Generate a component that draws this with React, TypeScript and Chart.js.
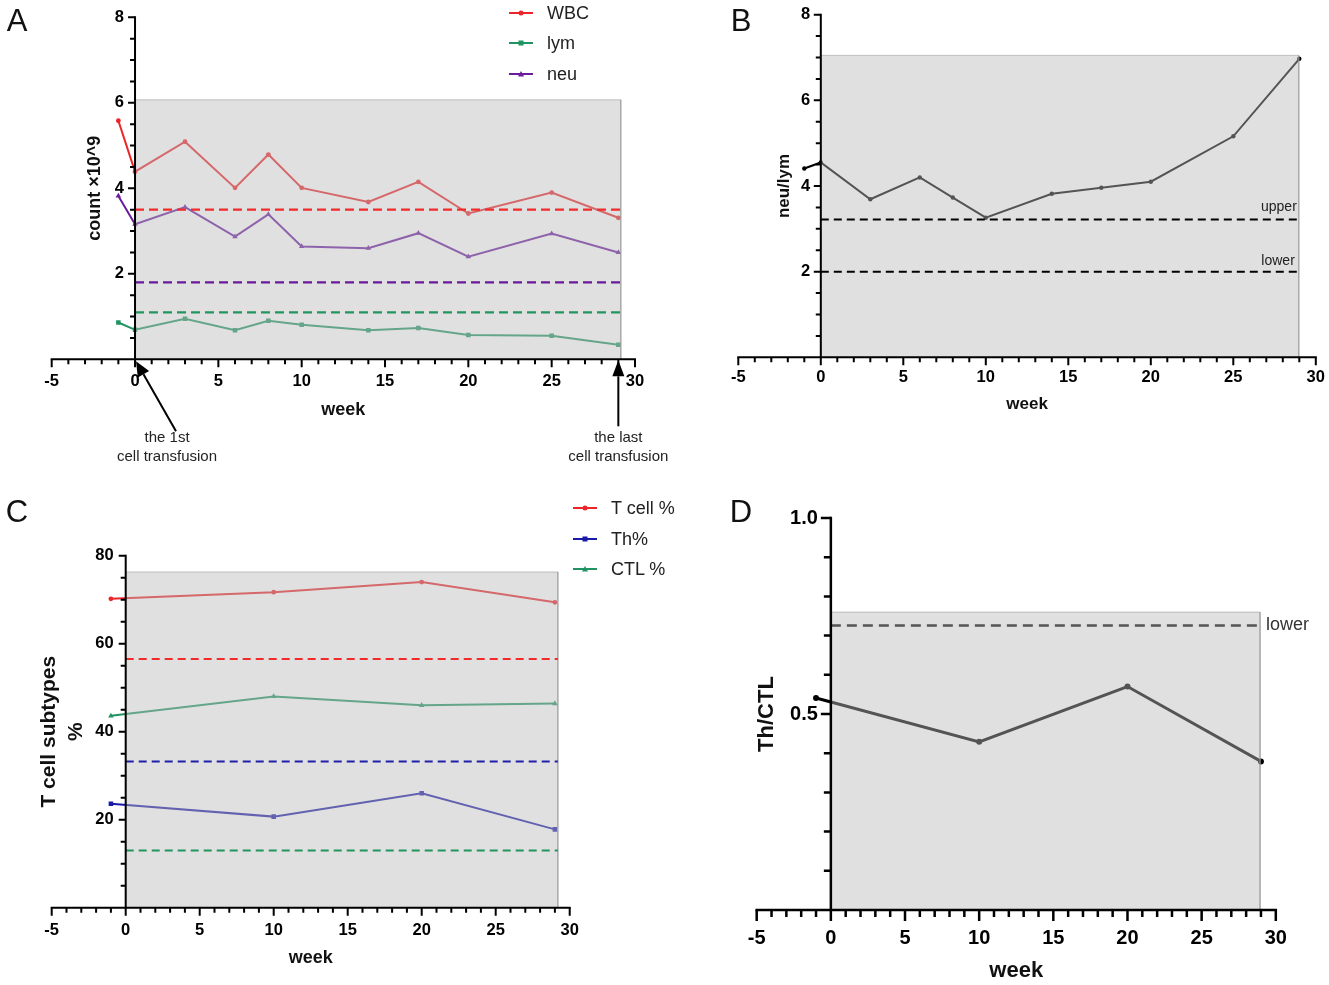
import React, { useEffect, useRef } from 'react';
import { Chart, registerables } from 'chart.js';

Chart.register(...registerables);

const FONT = '"Liberation Sans", Arial, Helvetica, sans-serif';
Chart.defaults.font.family = FONT;

// ---------------- data: panel A (counts) ----------------
const weeksA = [-1, 0, 3, 6, 8, 10, 14, 17, 20, 25, 29];
const wbcCounts = [5.58, 4.39, 5.09, 4.01, 4.79, 4.01, 3.68, 4.15, 3.41, 3.9, 3.31];
const lymCounts = [0.86, 0.69, 0.95, 0.68, 0.9, 0.81, 0.68, 0.73, 0.57, 0.55, 0.34];
const neuCounts = [3.82, 3.16, 3.56, 2.87, 3.39, 2.64, 2.6, 2.95, 2.4, 2.94, 2.5];
const wbcLowerLimit = 3.5;
const lymLowerLimit = 1.1;
const neuLowerLimit = 1.8;
const seriesNamesA = ['WBC', 'lym', 'neu'];
const transfusionWeeks = [0, 29];
const transfusionNotes = [
  ['the 1st', 'cell transfusion'],
  ['the last', 'cell transfusion'],
];

// ---------------- data: panel B (neu/lym) ----------------
const weeksB = [-1, 0, 3, 6, 8, 10, 14, 17, 20, 25, 29];
const neuLymRatio = [4.41, 4.55, 3.69, 4.2, 3.73, 3.26, 3.82, 3.96, 4.1, 5.16, 6.97];
const ratioUpper = 3.22;
const ratioLower = 2.0;
const ratioLimitNames = ['upper', 'lower'];

// ---------------- data: panel C (T cell subtypes) ----------------
const weeksC = [-1, 10, 20, 29];
const tCellPct = [70.2, 71.7, 74.0, 69.4];
const thPct = [23.6, 20.7, 26.0, 17.8];
const ctlPct = [43.6, 48.0, 46.0, 46.4];
const tCellLimit = 56.5;
const thLimit = 33.2;
const ctlLimit = 13.0;
const seriesNamesC = ['T cell %', 'Th%', 'CTL %'];

// ---------------- data: panel D (Th/CTL) ----------------
const weeksD = [-1, 10, 20, 29];
const thCtlRatio = [0.541, 0.429, 0.57, 0.379];
const thCtlLower = 0.726;
const thCtlLimitName = 'lower';

// shaded treatment window: end week and top value per panel
const windowEndA = 29.15;
const windowTopA = 6.07;
const windowEndB = 28.97;
const windowTopB = 7.05;
const windowEndC = 29.2;
const windowTopC = 76.3;
const windowEndD = 28.94;
const windowTopD = 0.76;

// ---------------- axes ----------------
const weekMin = -5;
const weekMax = 30;
const weekTicks = [-5, 0, 5, 10, 15, 20, 25, 30];
const weekTickLabels = ['-5', '0', '5', '10', '15', '20', '25', '30'];
const countMax = 8;
const countTicks = [2, 4, 6, 8];
const countTickLabels = ['2', '4', '6', '8'];
const ratioMax = 8;
const ratioTicks = [2, 4, 6, 8];
const ratioTickLabels = ['2', '4', '6', '8'];
const pctMax = 80;
const pctTicks = [20, 40, 60, 80];
const pctTickLabels = ['20', '40', '60', '80'];
const thCtlMax = 1;
const thCtlTicks = [0.5, 1.0];
const thCtlTickLabels = ['0.5', '1.0'];

// ---------------- styles ----------------
const RED = '#ec2529';
const GREEN = '#1f9462';
const PURPLE = '#6a1d9e';
const BLUE = '#1a1aa8';
const SHADE_FILL = 'rgba(186,186,186,0.45)';
const SHADE_EDGE = 'rgba(150,150,150,0.55)';

const pts = (xs: number[], ys: number[]) => xs.map((x, i) => ({ x, y: ys[i] }));

function series(label: string, xs: number[], ys: number[], color: string, pointStyle: string, extra: any = {}) {
  return {
    label,
    data: pts(xs, ys),
    borderColor: color,
    backgroundColor: color,
    pointBackgroundColor: color,
    pointBorderColor: color,
    borderWidth: 2,
    pointRadius: pointStyle === 'circle' ? 2.4 : 3.2,
    pointBorderWidth: 0,
    pointStyle,
    tension: 0,
    fill: false,
    order: 3,
    ...extra,
  };
}

function refLine(label: string, value: number, end: number, color: string, width: number, dash: number[], order = 1) {
  return {
    label,
    data: [
      { x: 0, y: value },
      { x: end, y: value },
    ],
    borderColor: color,
    backgroundColor: color,
    borderWidth: width,
    borderDash: dash,
    pointRadius: 0,
    fill: false,
    order,
  };
}

function shade(end: number, top: number) {
  return {
    label: 'window',
    data: [
      { x: 0, y: 0 },
      { x: 0, y: top },
      { x: end, y: top },
      { x: end, y: 0 },
    ],
    borderColor: SHADE_EDGE,
    borderWidth: 1,
    backgroundColor: SHADE_FILL,
    fill: 'origin',
    pointRadius: 0,
    order: 2,
  };
}

// ---------------- plugins ----------------
const prismAxes = {
  id: 'prismAxes',
  afterDraw(chart: any, _args: any, o: any) {
    if (!o || !o.xMajor) return;
    const ctx = chart.ctx;
    const xs = chart.scales.x;
    const ys = chart.scales.y;
    const px = (v: number) => xs.getPixelForValue(v);
    const py = (v: number) => ys.getPixelForValue(v);
    const ax = px(0);
    const ay = py(0);
    ctx.save();
    ctx.strokeStyle = '#000';
    ctx.fillStyle = '#000';
    ctx.lineWidth = o.axisWidth;
    ctx.lineCap = 'square';
    ctx.beginPath();
    ctx.moveTo(px(xs.min), ay);
    ctx.lineTo(px(xs.max), ay);
    ctx.moveTo(ax, ay);
    ctx.lineTo(ax, py(ys.max));
    ctx.stroke();
    ctx.lineCap = 'butt';
    ctx.beginPath();
    const nx = Math.round((xs.max - xs.min) / o.xMinorStep);
    for (let i = 0; i <= nx; i++) {
      const v = xs.min + i * o.xMinorStep;
      const major = o.xMajor.some((m: number) => Math.abs(m - v) < 1e-6);
      const p = px(v);
      ctx.moveTo(p, ay);
      ctx.lineTo(p, ay + (major ? o.xMajorLen : o.xMinorLen));
    }
    const ny = Math.round((ys.max - ys.min) / o.yMinorStep);
    for (let i = 1; i <= ny; i++) {
      const v = ys.min + i * o.yMinorStep;
      const major = o.yMajor.some((m: number) => Math.abs(m - v) < 1e-6);
      const p = py(v);
      ctx.moveTo(ax, p);
      ctx.lineTo(ax - (major ? o.yMajorLen : o.yMinorLen), p);
    }
    ctx.stroke();

    ctx.font = o.tickFont;
    ctx.textAlign = 'center';
    ctx.textBaseline = 'middle';
    o.xMajor.forEach((v: number, i: number) => ctx.fillText(o.xLabels[i], px(v), ay + o.xLabelGap));
    ctx.textAlign = 'right';
    o.yMajor.forEach((v: number, i: number) => ctx.fillText(o.yLabels[i], ax - o.yLabelGap, py(v)));

    ctx.textAlign = 'center';
    ctx.font = o.xTitleFont;
    ctx.fillStyle = '#111';
    ctx.fillText(o.xTitle, (px(xs.min) + px(xs.max)) / 2, ay + o.xTitleGap);
    ctx.font = o.yTitleFont;
    ctx.save();
    ctx.translate(ax - o.yTitleGap, (py(ys.min) + py(ys.max)) / 2);
    ctx.rotate(-Math.PI / 2);
    o.yTitle.forEach((t: string, i: number) => ctx.fillText(t, 0, i * o.yTitleLineGap));
    ctx.restore();
    ctx.restore();
  },
};

const arrowNotes = {
  id: 'arrowNotes',
  afterDraw(chart: any, _args: any, o: any) {
    if (!o || !o.items) return;
    const ctx = chart.ctx;
    const xs = chart.scales.x;
    const ys = chart.scales.y;
    ctx.save();
    for (const it of o.items) {
      const baseX = xs.getPixelForValue(it.week);
      const baseY = ys.getPixelForValue(0);
      const tx = baseX + it.tipDx;
      const ty = baseY + it.tipDy;
      const sx = tx + it.dx;
      const sy = ty + it.dy;
      const ang = Math.atan2(ty - sy, tx - sx);
      const bx = tx - it.headLen * Math.cos(ang);
      const by = ty - it.headLen * Math.sin(ang);
      ctx.strokeStyle = '#000';
      ctx.fillStyle = '#000';
      ctx.lineWidth = 2;
      ctx.beginPath();
      ctx.moveTo(sx, sy);
      ctx.lineTo(bx, by);
      ctx.stroke();
      ctx.beginPath();
      ctx.moveTo(tx, ty);
      ctx.lineTo(bx + it.headHalf * Math.sin(ang), by - it.headHalf * Math.cos(ang));
      ctx.lineTo(bx - it.headHalf * Math.sin(ang), by + it.headHalf * Math.cos(ang));
      ctx.closePath();
      ctx.fill();
      ctx.font = o.font;
      ctx.fillStyle = '#222';
      ctx.textAlign = 'center';
      ctx.textBaseline = 'middle';
      it.lines.forEach((t: string, i: number) => ctx.fillText(t, baseX + it.textDx, baseY + it.textDy + i * o.lineGap));
    }
    ctx.restore();
  },
};

const refText = {
  id: 'refText',
  afterDraw(chart: any, _args: any, o: any) {
    if (!o || !o.items) return;
    const ctx = chart.ctx;
    const xs = chart.scales.x;
    const ys = chart.scales.y;
    ctx.save();
    for (const it of o.items) {
      ctx.font = it.font;
      ctx.fillStyle = it.color;
      ctx.textAlign = it.align;
      ctx.textBaseline = 'middle';
      ctx.fillText(it.text, xs.getPixelForValue(it.x) + it.dx, ys.getPixelForValue(it.y) + it.dy);
    }
    ctx.restore();
  },
};

function makeConfig(datasets: any[], yMax: number, padding: any, axes: any, extra: any = {}) {
  return {
    type: 'line',
    data: { datasets },
    options: {
      responsive: false,
      maintainAspectRatio: false,
      animation: false,
      events: [],
      layout: { padding },
      scales: {
        x: { type: 'linear', min: weekMin, max: weekMax, display: false },
        y: { type: 'linear', min: 0, max: yMax, display: false },
      },
      plugins: {
        legend: { display: false },
        tooltip: { enabled: false },
        filler: { drawTime: 'beforeDatasetDraw' },
        prismAxes: axes,
        arrowNotes: extra.arrowNotes || {},
        refText: extra.refText || {},
      },
    },
    plugins: [prismAxes, arrowNotes, refText],
  };
}

const baseAxes = {
  xMajor: weekTicks,
  xLabels: weekTickLabels,
  xMinorStep: 1,
  tickFont: `bold 16.5px ${FONT}`,
  axisWidth: 2,
  xMajorLen: 8,
  xMinorLen: 5,
  yMajorLen: 7,
  yMinorLen: 5,
  xTitle: 'week',
  yTitleLineGap: 0,
};

function configA() {
  const datasets = [
    series(seriesNamesA[0], weeksA, wbcCounts, RED, 'circle'),
    series(seriesNamesA[1], weeksA, lymCounts, GREEN, 'rect'),
    series(seriesNamesA[2], weeksA, neuCounts, PURPLE, 'triangle'),
    shade(windowEndA, windowTopA),
    refLine('WBC limit', wbcLowerLimit, windowEndA, '#f22a2a', 2.2, [9, 5]),
    refLine('neu limit', neuLowerLimit, windowEndA, '#681a9c', 2.2, [9, 5]),
    refLine('lym limit', lymLowerLimit, windowEndA, '#22955f', 2.2, [9, 5]),
  ];
  const axes = {
    ...baseAxes,
    yMajor: countTicks,
    yLabels: countTickLabels,
    yMinorStep: 0.5,
    xLabelGap: 22.5,
    yLabelGap: 11,
    xTitleGap: 50.5,
    yTitleGap: 40,
    xTitleFont: `bold 18px ${FONT}`,
    yTitleFont: `bold 18px ${FONT}`,
    yTitle: ['count ×10^9'],
  };
  const notes = {
    font: `15px ${FONT}`,
    lineGap: 18.4,
    items: [
      { week: transfusionWeeks[0], tipDx: 1, tipDy: 2, dx: 40, dy: 70, headLen: 15, headHalf: 6.5, textDx: 32, textDy: 79, lines: transfusionNotes[0] },
      { week: transfusionWeeks[1], tipDx: 0, tipDy: 1, dx: 0, dy: 66, headLen: 16, headHalf: 6, textDx: 0, textDy: 79, lines: transfusionNotes[1] },
    ],
  };
  return makeConfig(datasets, countMax, { left: 51.7, right: 65, top: 17.3, bottom: 120.7 }, axes, { arrowNotes: notes });
}

function configB() {
  const datasets = [
    series('neu/lym', weeksB, neuLymRatio, '#000000', 'circle', { pointRadius: 2.2 }),
    shade(windowEndB, windowTopB),
    refLine('upper', ratioUpper, windowEndB, '#000000', 2, [8, 5]),
    refLine('lower', ratioLower, windowEndB, '#000000', 2, [8, 5]),
  ];
  const axes = {
    ...baseAxes,
    yMajor: ratioTicks,
    yLabels: ratioTickLabels,
    yMinorStep: 0.5,
    xLabelGap: 20.5,
    yLabelGap: 10.5,
    xTitleGap: 47,
    yTitleGap: 36,
    xTitleFont: `bold 17px ${FONT}`,
    yTitleFont: `bold 17px ${FONT}`,
    yTitle: ['neu/lym'],
  };
  const labels = {
    items: [
      { text: ratioLimitNames[0], x: windowEndB, y: ratioUpper, dx: -2, dy: -12, align: 'right', font: `14px ${FONT}`, color: '#222' },
      { text: ratioLimitNames[1], x: windowEndB, y: ratioLower, dx: -4, dy: -11, align: 'right', font: `14px ${FONT}`, color: '#222' },
    ],
  };
  return makeConfig(datasets, ratioMax, { left: 73.3, right: 13.2, top: 14.7, bottom: 122.7 }, axes, { refText: labels });
}

function configC() {
  const datasets = [
    series(seriesNamesC[0], weeksC, tCellPct, RED, 'circle'),
    series(seriesNamesC[1], weeksC, thPct, BLUE, 'rect'),
    series(seriesNamesC[2], weeksC, ctlPct, GREEN, 'triangle'),
    shade(windowEndC, windowTopC),
    refLine('T cell limit', tCellLimit, windowEndC, '#f22a2a', 2, [8, 5]),
    refLine('Th limit', thLimit, windowEndC, '#1e1eaa', 2, [8, 5]),
    refLine('CTL limit', ctlLimit, windowEndC, '#22955f', 2, [8, 5]),
  ];
  const axes = {
    ...baseAxes,
    yMajor: pctTicks,
    yLabels: pctTickLabels,
    yMinorStep: 5,
    xLabelGap: 23,
    yLabelGap: 12,
    xTitleGap: 50.3,
    yTitleGap: 76,
    yTitleLineGap: 27,
    xTitleFont: `bold 18px ${FONT}`,
    yTitleFont: `bold 21px ${FONT}`,
    yTitle: ['T cell subtypes', '%'],
  };
  return makeConfig(datasets, pctMax, { left: 51.7, right: 95.3, top: 75.7, bottom: 77.3 }, axes);
}

function configD() {
  const datasets = [
    series('Th/CTL', weeksD, thCtlRatio, '#000000', 'circle', { borderWidth: 3, pointRadius: 3 }),
    refLine('lower', thCtlLower, windowEndD, '#000000', 2.5, [10, 6], 4),
    shade(windowEndD, windowTopD),
  ];
  const axes = {
    ...baseAxes,
    tickFont: `bold 20px ${FONT}`,
    axisWidth: 2.5,
    xMajorLen: 11,
    xMinorLen: 7,
    yMajorLen: 10,
    yMinorLen: 7,
    yMajor: thCtlTicks,
    yLabels: thCtlTickLabels,
    yMinorStep: 0.1,
    xLabelGap: 28.3,
    yLabelGap: 13,
    xTitleGap: 61,
    yTitleGap: 64,
    xTitleFont: `bold 22px ${FONT}`,
    yTitleFont: `bold 22px ${FONT}`,
    yTitle: ['Th/CTL'],
  };
  const labels = {
    items: [{ text: thCtlLimitName, x: windowEndD, y: thCtlLower, dx: 6, dy: 0, align: 'left', font: `18px ${FONT}`, color: '#333' }],
  };
  return makeConfig(datasets, thCtlMax, { left: 91.7, right: 53.2, top: 38, bottom: 75 }, axes, { refText: labels });
}

function ChartBox({ left, top, width, height, build }: any) {
  const ref = useRef<HTMLCanvasElement>(null);
  useEffect(() => {
    const chart = new Chart(ref.current as HTMLCanvasElement, build() as any);
    return () => chart.destroy();
  }, [build]);
  return (
    <canvas
      ref={ref}
      width={width}
      height={height}
      style={{ position: 'absolute', left, top, width, height, display: 'block' }}
    />
  );
}

function Marker({ kind, color }: { kind: string; color: string }) {
  if (kind === 'rect') return <rect x={9.5} y={3.5} width={5} height={5} fill={color} />;
  if (kind === 'triangle') return <polygon points="12,3 15,8.5 9,8.5" fill={color} />;
  return <circle cx={12} cy={6} r={2.5} fill={color} />;
}

function LegendEntry({ x, y, textX, color, kind, label }: any) {
  return (
    <>
      <svg style={{ position: 'absolute', left: x, top: y - 6 }} width={24} height={12}>
        <line x1={0} y1={6} x2={24} y2={6} stroke={color} strokeWidth={2} />
        <Marker kind={kind} color={color} />
      </svg>
      <div
        style={{
          position: 'absolute',
          left: textX,
          top: y,
          transform: 'translateY(-50%)',
          font: `18px ${FONT}`,
          lineHeight: 1,
          color: '#222',
          whiteSpace: 'nowrap',
        }}
      >
        {label}
      </div>
    </>
  );
}

function PanelLetter({ x, y, text }: any) {
  return (
    <div
      style={{
        position: 'absolute',
        left: x,
        top: y,
        transform: 'translate(-50%, -50%)',
        font: `31px ${FONT}`,
        lineHeight: 1,
        color: '#111',
      }}
    >
      {text}
    </div>
  );
}

const legendKindsA = ['circle', 'rect', 'triangle'];
const legendColorsA = [RED, GREEN, PURPLE];
const legendKindsC = ['circle', 'rect', 'triangle'];
const legendColorsC = [RED, BLUE, GREEN];

export default function App() {
  return (
    <div style={{ position: 'absolute', left: 0, top: 0, width: 1329, height: 985, background: '#fff', overflow: 'hidden' }}>
      <ChartBox left={665} top={0} width={664} height={480} build={configB} />
      <ChartBox left={0} top={0} width={700} height={480} build={configA} />
      <ChartBox left={0} top={480} width={665} height={505} build={configC} />
      <ChartBox left={665} top={480} width={664} height={505} build={configD} />

      {seriesNamesA.map((name, i) => (
        <LegendEntry key={name} x={509} y={12.7 + i * 30.65} textX={547} color={legendColorsA[i]} kind={legendKindsA[i]} label={name} />
      ))}
      {seriesNamesC.map((name, i) => (
        <LegendEntry key={name} x={573} y={508 + i * 30.5} textX={611} color={legendColorsC[i]} kind={legendKindsC[i]} label={name} />
      ))}

      <PanelLetter x={17} y={20} text="A" />
      <PanelLetter x={741} y={20} text="B" />
      <PanelLetter x={17} y={511} text="C" />
      <PanelLetter x={741} y={511} text="D" />
    </div>
  );
}
